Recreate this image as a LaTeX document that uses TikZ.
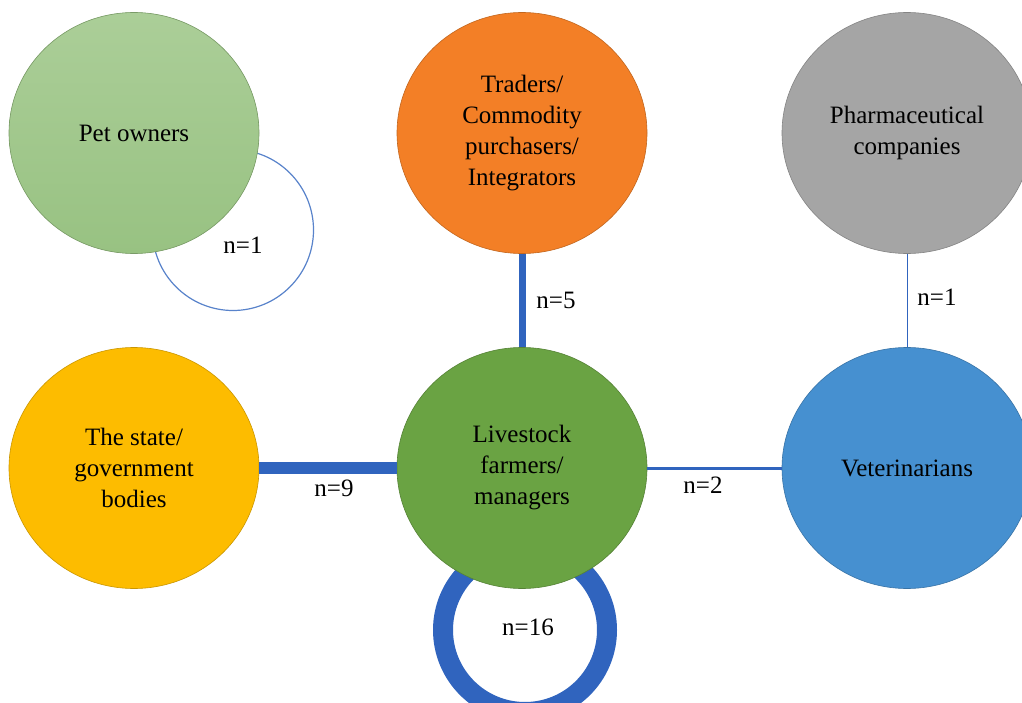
\documentclass[tikz,border=0pt]{standalone}
\usepackage{fontspec}
\setmainfont{Liberation Serif}
\usetikzlibrary{positioning,shapes.geometric}
\definecolor{linkblue}{HTML}{3064BE}
\definecolor{petgreenA}{HTML}{ABCE98}
\definecolor{petgreenB}{HTML}{98C282}
\definecolor{tradeorange}{HTML}{F37F26}
\definecolor{pharmagray}{HTML}{A5A5A5}
\definecolor{stateyellow}{HTML}{FDBC00}
\definecolor{livegreen}{HTML}{6AA343}
\definecolor{vetblue}{HTML}{4690D0}

\begin{document}
\begin{tikzpicture}[
    x=1pt, y=-1pt,
    actornode/.style={ellipse, draw=#1!80!black, line width=0.6pt, fill=#1, minimum width=250pt, minimum height=241pt, inner sep=0pt, align=center, font=\fontsize{25}{31}\selectfont},
    loopring/.style={circle, draw=linkblue, inner sep=0pt},
    link/.style={draw=linkblue},
    countlabel/.style={font=\fontsize{25}{31}\selectfont, inner sep=1pt}
]
    \useasboundingbox[fill=white] (0,0) rectangle (1022,703);

    % Anelli di auto-relazione (sotto i nodi)
    \node[loopring, line width=1.2pt, draw=linkblue!80, minimum size=161pt] (petloop) at (233,230) {};
    \node[loopring, line width=20pt, minimum size=164pt] (liveloop) at (525,630) {};

    % Attori: riga superiore
    \node[actornode=petgreenB, top color=petgreenA, bottom color=petgreenB] (pet) at (134,133) {Pet owners};
    \node[actornode=tradeorange] (trade) at (522,133) {Traders/\\Commodity\\purchasers/\\Integrators};
    \node[actornode=pharmagray] (pharma) at (907,133) {Pharmaceutical\\companies};

    % Attori: riga inferiore
    \node[actornode=stateyellow] (state) at (134,468) {The state/\\government\\bodies};
    \node[actornode=livegreen] (live) at (522,468) {Livestock\\farmers/\\managers};
    \node[actornode=vetblue] (vet) at (907,468) {Veterinarians};

    % Collegamenti (spessore secondo n)
    \draw[link, line width=12pt] (state) -- (live);
    \draw[link, line width=7pt] (trade) -- (live);
    \draw[link, line width=3pt] (live) -- (vet);
    \draw[link, line width=1pt] (pharma) -- (vet);

    % Etichette dei conteggi
    \node[countlabel] (npet) at (243,245) {n=1};
    \node[countlabel] (ntrade) at (556,300) {n=5};
    \node[countlabel] (npharma) at (937,297) {n=1};
    \node[countlabel] (nstate) at (334,488) {n=9};
    \node[countlabel] (nvet) at (703,485) {n=2};
    \node[countlabel] (nlive) at (528,627) {n=16};
\end{tikzpicture}
\end{document}
